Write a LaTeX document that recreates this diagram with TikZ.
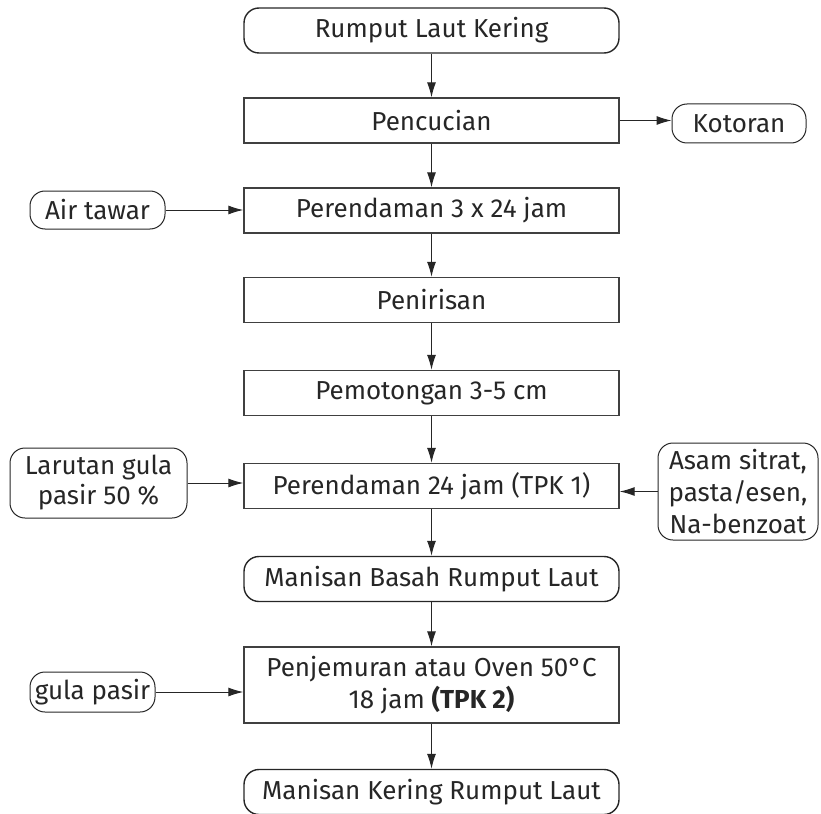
\documentclass[tikz,border=0pt]{standalone}
\usepackage{fontspec}
\setmainfont{Fira Sans}
\usetikzlibrary{arrows.meta}
\begin{document}
\begin{tikzpicture}[x=1pt,y=-1pt,
  every node/.style={font=\fontsize{26}{32}\selectfont, text=black!85, inner sep=0pt, align=center},
  mainbox/.style={draw=black!75, line width=1.4pt, minimum width=375pt, minimum height=45pt},
  termbox/.style={draw=black!85, line width=1.4pt, rounded corners=15pt, minimum width=375pt, minimum height=45pt},
  sidebox/.style={draw=black!85, line width=1pt, rounded corners=15pt},
  arr/.style={draw=black!85, line width=1pt, -{Latex[length=15pt,width=9pt]}}
]
\useasboundingbox (0,0) rectangle (821,813);
\node[termbox] (t1) at (431.5,30.5) {Rumput Laut Kering};
\node[mainbox] (p1) at (431.5,120.5) {Pencucian};
\node[mainbox] (p2) at (431.5,210.5) {Perendaman 3 x 24 jam};
\node[mainbox] (p3) at (431.5,300) {Penirisan};
\node[mainbox] (p4) at (431.5,393) {Pemotongan 3-5 cm};
\node[mainbox] (p5) at (431.5,486) {Perendaman 24 jam (TPK 1)};
\node[termbox] (t2) at (431.5,579) {Manisan Basah Rumput Laut};
\node[mainbox, minimum height=76pt] (p6) at (431.5,685) {Penjemuran atau Oven 50°C\\18 jam \textbf{(TPK 2)}};
\node[termbox] (t3) at (431.5,792) {Manisan Kering Rumput Laut};

\node[sidebox, minimum width=134pt, minimum height=39pt] (s1) at (739,123.5) {Kotoran};
\node[sidebox, minimum width=135pt, minimum height=38pt] (s2) at (97.5,210) {Air tawar};
\node[sidebox, minimum width=177pt, minimum height=70pt, font=\fontsize{26}{30}\selectfont] (s3) at (98.5,483) {Larutan gula\\pasir 50 \%};
\node[sidebox, minimum width=160pt, minimum height=97pt] (s4) at (738,491.5) {Asam sitrat,\\pasta/esen,\\Na-benzoat};
\node[sidebox, minimum width=125pt, minimum height=40pt] (s5) at (92.5,692) {gula pasir};

\draw[arr] (t1) -- (p1);
\draw[arr] (p1) -- (p2);
\draw[arr] (p2) -- (p3);
\draw[arr] (p3) -- (p4);
\draw[arr] (p4) -- (p5);
\draw[arr] (p5) -- (t2);
\draw[arr] (t2) -- (p6);
\draw[arr] (p6) -- (t3);
\draw[arr] (p1.east) -- (p1.east -| s1.west);
\draw[arr] (s2.east) -- (s2.east -| p2.west);
\draw[arr] (s3.east) -- (s3.east -| p5.west);
\draw[arr] (s4.west) -- (s4.west -| p5.east);
\draw[arr] (s5.east) -- (s5.east -| p6.west);
\end{tikzpicture}
\end{document}
